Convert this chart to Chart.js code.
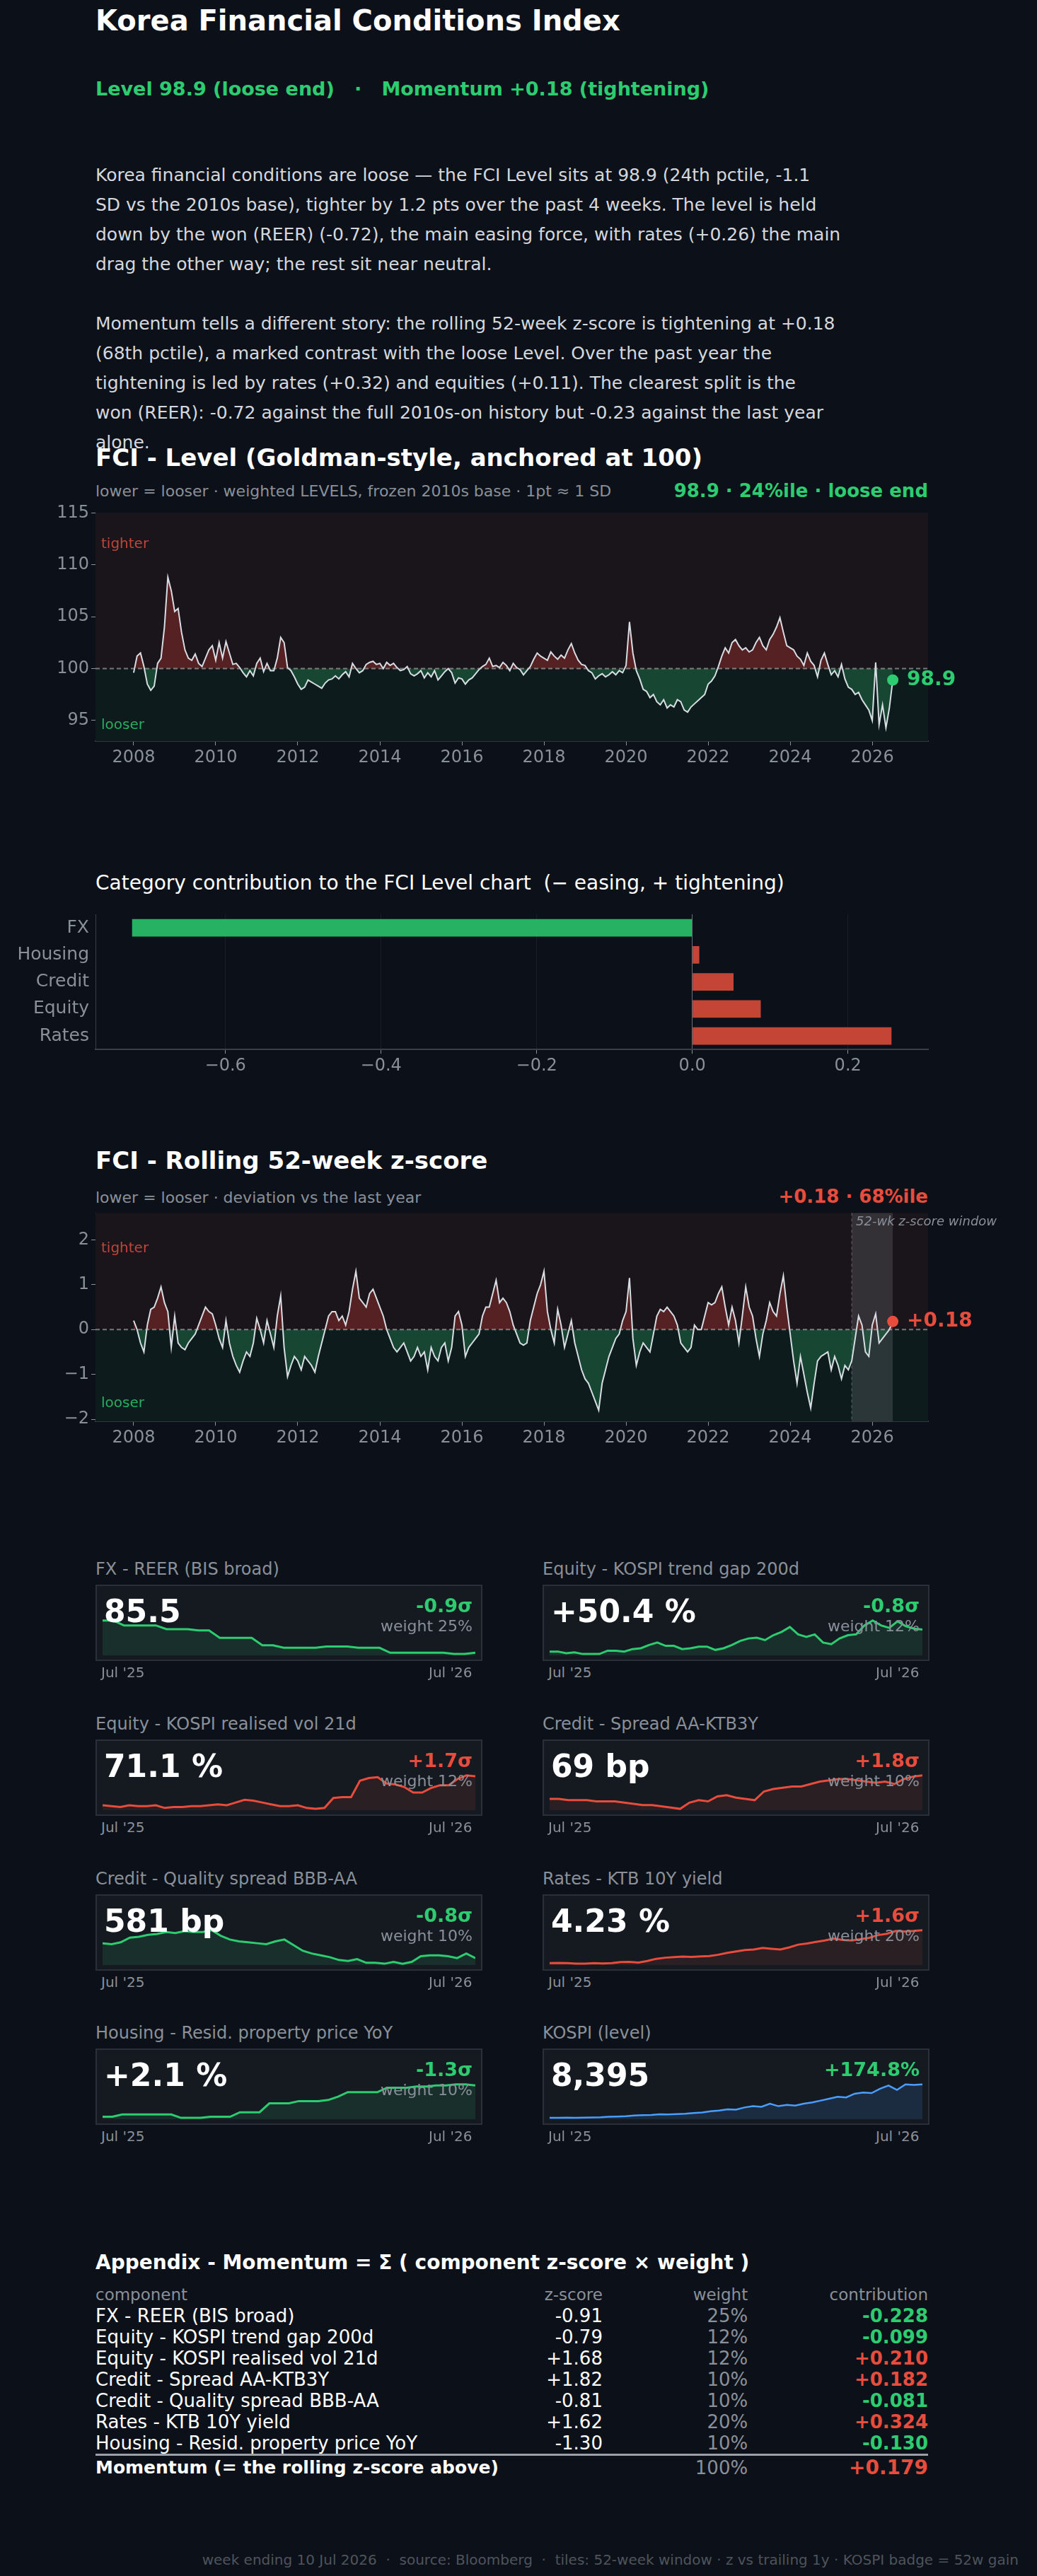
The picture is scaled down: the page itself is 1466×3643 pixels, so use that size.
<!DOCTYPE html>
<html>
<head>
<meta charset="utf-8">
<script src="https://cdn.jsdelivr.net/npm/chart.js@4.4.1/dist/chart.umd.min.js"></script>
<style>
  body { margin: 0; background: #0c1018; font-family: "DejaVu Sans", sans-serif; color: #d4d8de; }
  #page { position: relative; width: 1466px; height: 3643px; overflow: hidden; }
  .t { position: absolute; white-space: nowrap; }
  .box { position: absolute; background: #151a21; border: 2px solid #2a2f38; box-sizing: border-box; }
  .cv { position: absolute; }
  table { border-collapse: collapse; }
</style>
</head>
<body>
<div id="page">
  <div class="t" style="left:135px;top:6px;font-size:40px;font-weight:bold;color:#fff">Korea Financial Conditions Index</div>
  <div class="t" style="left:135px;top:110px;font-size:27px;font-weight:bold;color:#2ecc71">Level 98.9 (loose end) &nbsp; · &nbsp; Momentum +0.18 (tightening)</div>
  <div class="t" style="left:135px;top:227px;font-size:25px;line-height:42px;color:#d4d8de">
    Korea financial conditions are loose — the FCI Level sits at 98.9 (24th pctile, -1.1<br>
    SD vs the 2010s base), tighter by 1.2 pts over the past 4 weeks. The level is held<br>
    down by the won (REER) (-0.72), the main easing force, with rates (+0.26) the main<br>
    drag the other way; the rest sit near neutral.
  </div>
  <div class="t" style="left:135px;top:437px;font-size:25px;line-height:42px;color:#d4d8de">
    Momentum tells a different story: the rolling 52-week z-score is tightening at +0.18<br>
    (68th pctile), a marked contrast with the loose Level. Over the past year the<br>
    tightening is led by rates (+0.32) and equities (+0.11). The clearest split is the<br>
    won (REER): -0.72 against the full 2010s-on history but -0.23 against the last year<br>
    alone.
  </div>

  <div class="t" style="left:135px;top:627px;font-size:34px;font-weight:bold;color:#fff">FCI - Level (Goldman-style, anchored at 100)</div>
  <div class="t" style="left:135px;top:682px;font-size:22px;color:#8a9099">lower = looser · weighted LEVELS, frozen 2010s base · 1pt ≈ 1 SD</div>
  <div class="t" style="right:154px;top:679px;font-size:26px;font-weight:bold;color:#2ecc71">98.9 · 24%ile · loose end</div>
  <div class="cv" style="left:40px;top:708px;width:1420px;height:381px"><canvas id="levelChart"></canvas></div>

  <div class="t" style="left:135px;top:1232px;font-size:28px;color:#fff">Category contribution to the FCI Level chart &nbsp;(− easing, + tightening)</div>
  <div class="cv" style="left:0px;top:1275px;width:1330px;height:250px"><canvas id="catChart"></canvas></div>

  <div class="t" style="left:135px;top:1621px;font-size:34px;font-weight:bold;color:#fff">FCI - Rolling 52-week z-score</div>
  <div class="t" style="left:135px;top:1681px;font-size:22px;color:#8a9099">lower = looser · deviation vs the last year</div>
  <div class="t" style="right:154px;top:1677px;font-size:26px;font-weight:bold;color:#e74c3c">+0.18 · 68%ile</div>
  <div class="cv" style="left:40px;top:1698px;width:1420px;height:353px"><canvas id="zChart"></canvas></div>

  <div id="tiles"></div>

  <div class="t" style="left:135px;top:3183px;font-size:28px;font-weight:bold;color:#fff">Appendix - Momentum = Σ ( component z-score × weight )</div>
  <table id="tbl" class="t" style="left:135px;top:3230px;width:1177px;font-size:26px"></table>

  <div class="t" style="right:26px;top:3608px;font-size:20px;color:#4f545c">week ending 10 Jul 2026 &nbsp;·&nbsp; source: Bloomberg &nbsp;·&nbsp; tiles: 52-week window · z vs trailing 1y · KOSPI badge = 52w gain</div>
</div>

<script>
// === Data ===
const startYear = 2008;
// FCI level, monthly Jan 2008 .. Jul 2026
const levelValues = [
  99.6, 101.2, 101.5, 100.2, 98.5, 97.9, 98.3, 100.5, 101.0, 104.0, 108.8, 107.5,
  105.5, 105.8, 103.5, 101.8, 101.0, 100.8, 101.4, 100.5, 100.2, 101.0, 101.8, 102.2,
  100.8, 102.5, 101.0, 102.6, 101.5, 100.4, 100.5, 100.1, 99.6, 99.2, 99.8, 99.3,
  100.5, 101.0, 99.7, 100.5, 99.8, 99.8, 101.0, 103.0, 102.5, 100.1, 99.8, 99.2,
  98.5, 98.0, 98.2, 98.9, 98.7, 98.5, 98.3, 98.1, 98.6, 98.9, 99.0, 99.3,
  99.0, 99.4, 99.7, 99.2, 100.5, 100.0, 99.6, 99.8, 100.4, 100.6, 100.7, 100.4,
  100.5, 100.0, 100.6, 100.3, 100.5, 100.1, 99.8, 99.9, 100.2, 99.5, 99.3, 99.5,
  99.8, 99.1, 99.6, 99.2, 99.8, 98.9, 99.3, 99.7, 100.0, 99.6, 98.6, 99.1,
  99.0, 98.5, 98.9, 99.1, 99.5, 99.9, 100.2, 100.4, 101.0, 100.2, 100.3, 100.1,
  100.6, 100.3, 99.8, 100.5, 100.1, 99.9, 99.4, 99.8, 100.2, 100.9, 101.5, 101.2,
  101.0, 100.8, 101.6, 101.2, 100.9, 101.3, 101.0, 101.8, 102.4, 101.5, 100.8, 100.4,
  100.3, 99.8, 99.6, 99.0, 99.3, 99.5, 99.2, 99.4, 99.7, 99.4, 99.8, 99.6,
  100.3, 104.5, 101.5, 99.8, 99.0, 98.0, 97.8, 97.2, 97.5, 96.8, 96.5, 97.0,
  96.2, 96.5, 96.3, 97.0, 96.8, 96.0, 95.8, 96.3, 96.6, 96.9, 97.2, 97.5,
  98.5, 98.8, 99.3, 100.2, 101.2, 102.0, 101.5, 102.5, 102.8, 102.2, 101.8, 102.0,
  101.6, 101.8, 102.5, 103.0, 102.2, 101.8, 102.8, 103.3, 104.0, 104.9, 103.5, 102.2,
  102.0, 101.8, 101.2, 100.9, 100.3, 101.5, 100.7, 100.3, 99.2, 100.8, 101.5, 100.4,
  99.4, 99.8, 99.2, 100.4, 99.0, 98.2, 98.0, 97.5, 97.7, 97.0, 96.5, 96.0,
  95.0, 100.6, 94.6, 96.5, 94.3, 96.2, 98.9
];
// Rolling 52-week z-score, monthly Jan 2008 .. Jul 2026
const zValues = [
  0.2, 0.0, -0.3, -0.5, 0.1, 0.45, 0.5, 0.7, 0.95, 0.6, 0.4, -0.4,
  0.3, -0.3, -0.4, -0.45, -0.3, -0.2, -0.1, 0.1, 0.3, 0.5, 0.4, 0.35,
  0.1, -0.2, -0.4, 0.2, -0.3, -0.6, -0.8, -0.95, -0.7, -0.5, -0.6, -0.3,
  0.25, 0.0, -0.3, 0.2, -0.1, -0.4, 0.3, 0.75, -0.4, -1.05, -0.8, -0.6,
  -0.7, -0.9, -0.6, -0.7, -0.8, -0.95, -0.6, -0.3, 0.0, 0.3, 0.4, 0.4,
  0.2, 0.3, 0.1, 0.4, 0.9, 1.3, 0.7, 0.6, 0.5, 0.8, 0.9, 0.7,
  0.5, 0.3, 0.0, -0.2, -0.4, -0.5, -0.4, -0.3, -0.5, -0.7, -0.6, -0.4,
  -0.6, -0.5, -0.9, -0.4, -0.6, -0.7, -0.4, -0.3, -0.7, -0.4, 0.3, 0.4,
  0.1, -0.6, -0.4, -0.3, -0.2, -0.1, 0.3, 0.5, 0.5, 0.8, 1.1, 0.6,
  0.7, 0.6, 0.4, 0.1, -0.1, -0.3, -0.35, -0.3, 0.2, 0.5, 0.8, 1.0,
  1.3, 0.4, 0.0, -0.3, 0.45, 0.1, -0.4, -0.1, 0.2, -0.3, -0.6, -0.9,
  -1.1, -1.2, -1.4, -1.6, -1.8, -1.2, -0.9, -0.6, -0.4, -0.2, -0.1, 0.2,
  0.4, 1.15, -0.2, -0.8, -0.5, -0.3, -0.4, -0.5, -0.1, 0.3, 0.45, 0.4,
  0.5, 0.4, 0.3, 0.1, -0.3, -0.4, -0.5, -0.4, 0.1, 0.0, 0.0, 0.3,
  0.6, 0.55, 0.6, 0.8, 0.95, 0.5, 0.1, 0.5, 0.2, -0.3, 0.3, 0.95,
  0.5, 0.3, -0.2, -0.6, -0.1, 0.2, 0.6, 0.4, 0.3, 0.8, 1.2, 0.5,
  -0.1, -0.7, -1.2, -0.6, -1.0, -1.4, -1.75, -1.2, -0.7, -0.6, -0.55, -0.5,
  -0.9, -0.6, -0.8, -1.1, -0.8, -0.9, -0.7, -0.2, 0.3, 0.1, -0.5, -0.6,
  0.1, 0.35, -0.3, -0.2, -0.1, 0.0, 0.18
];
const yearTicks = [2008, 2010, 2012, 2014, 2016, 2018, 2020, 2022, 2024, 2026];
const levelTicks = [95, 100, 105, 110, 115];
const zTicks = [-2, -1, 0, 1, 2];

const categories = ['FX', 'Housing', 'Credit', 'Equity', 'Rates'];
const categoryContrib = [-0.72, 0.009, 0.053, 0.088, 0.256];
const contribTicks = [-0.6, -0.4, -0.2, 0, 0.2];

const tileTitles = ['FX - REER (BIS broad)', 'Equity - KOSPI trend gap 200d', 'Equity - KOSPI realised vol 21d',
  'Credit - Spread AA-KTB3Y', 'Credit - Quality spread BBB-AA', 'Rates - KTB 10Y yield',
  'Housing - Resid. property price YoY', 'KOSPI (level)'];
const tileValues = ['85.5', '+50.4 %', '71.1 %', '69 bp', '581 bp', '4.23 %', '+2.1 %', '8,395'];
const tileBadges = ['-0.9σ', '-0.8σ', '+1.7σ', '+1.8σ', '-0.8σ', '+1.6σ', '-1.3σ', '+174.8%'];
const tileWeights = ['weight 25%', 'weight 12%', 'weight 12%', 'weight 10%', 'weight 10%', 'weight 20%', 'weight 10%', ''];
const tileTone = ['green', 'green', 'red', 'red', 'green', 'red', 'green', 'blue'];
const sparkFx = [88.2, 88.2, 87.8, 87.8, 87.8, 87.8, 87.5, 87.5, 87.5, 87.4, 87.4, 86.8, 86.8, 86.8, 86.8, 86.2, 86.2, 86.0, 86.0, 86.0, 86.0, 86.1, 86.1, 86.1, 86.0, 86.0, 86.0, 85.6, 85.6, 85.6, 85.6, 85.6, 85.6, 85.5, 85.5, 85.6];
const sparkTrend = [5, 5, 3, 4, 2, 2, 2, 6, 6, 5, 8, 9, 13, 16, 12, 12, 8, 9, 11, 11, 7, 9, 13, 18, 21, 22, 19, 25, 29, 35, 26, 23, 26, 16, 14, 21, 25, 26, 37, 43, 37, 34, 42, 36, 33, 32];
const sparkVol = [38, 37, 36, 38, 37, 37, 38, 35, 36, 36, 37, 37, 38, 39, 38, 41, 44, 43, 41, 39, 37, 37, 38, 35, 34, 35, 46, 47, 47, 65, 68, 69, 62, 61, 58, 52, 52, 57, 60, 60, 67, 71, 70];
const sparkSpread = [50, 50, 49, 49, 49, 48, 48, 48, 47, 46, 45, 45, 44, 43, 42, 47, 49, 48, 52, 53, 51, 50, 49, 56, 58, 59, 60, 60, 62, 64, 65, 66, 66, 65, 64, 63, 64, 62, 66, 68, 69];
const sparkQuality = [602, 601, 603, 608, 609, 611, 612, 614, 613, 615, 614, 614, 616, 610, 606, 604, 603, 602, 601, 604, 606, 600, 594, 591, 589, 587, 584, 583, 585, 581, 581, 580, 582, 580, 582, 588, 589, 589, 588, 586, 591, 586];
const sparkKtb = [3.02, 3.03, 3.02, 3.0, 3.0, 3.02, 3.01, 3.02, 3.06, 3.07, 3.04, 3.1, 3.18, 3.22, 3.24, 3.26, 3.25, 3.27, 3.28, 3.33, 3.4, 3.45, 3.5, 3.52, 3.58, 3.55, 3.52, 3.6, 3.7, 3.74, 3.8, 3.85, 3.92, 3.87, 3.85, 3.9, 3.95, 4.05, 4.1, 4.2, 4.18, 4.2, 4.23];
const sparkHousing = [-2.0, -2.0, -1.8, -1.8, -1.8, -1.8, -1.8, -1.8, -2.1, -2.1, -2.1, -2.0, -2.0, -2.0, -1.6, -1.6, -1.6, -0.8, -0.8, -0.8, -0.6, -0.6, -0.6, -0.5, -0.2, 0.2, 0.2, 0.2, 0.2, 0.6, 0.6, 0.6, 0.7, 0.7, 0.8, 0.8, 0.9, 0.9, 0.8];
const sparkKospi = [3050, 3040, 3060, 3030, 3080, 3090, 3120, 3200, 3250, 3300, 3420, 3460, 3500, 3600, 3580, 3650, 3700, 3800, 3900, 4100, 4200, 4400, 4350, 4700, 4900, 4800, 5300, 4900, 5100, 5000, 5300, 5500, 5800, 6100, 6400, 6300, 6900, 7100, 7000, 7700, 8200, 7500, 8400, 8300, 8395];
const sparkSeries = [sparkFx, sparkTrend, sparkVol, sparkSpread, sparkQuality, sparkKtb, sparkHousing, sparkKospi];

const tableRows = [
  ['FX - REER (BIS broad)', '-0.91', '25%', '-0.228'],
  ['Equity - KOSPI trend gap 200d', '-0.79', '12%', '-0.099'],
  ['Equity - KOSPI realised vol 21d', '+1.68', '12%', '+0.210'],
  ['Credit - Spread AA-KTB3Y', '+1.82', '10%', '+0.182'],
  ['Credit - Quality spread BBB-AA', '-0.81', '10%', '-0.081'],
  ['Rates - KTB 10Y yield', '+1.62', '20%', '+0.324'],
  ['Housing - Resid. property price YoY', '-1.30', '10%', '-0.130']
];
const totalRow = ['Momentum  (= the rolling z-score above)', '', '100%', '+0.179'];

// === Colours ===
const green = '#2ecc71';
const red = '#e74c3c';
const muted = '#8a9099';
const gridCol = 'rgba(255,255,255,0.06)';

Chart.defaults.font.family = '"DejaVu Sans", sans-serif';
Chart.defaults.color = muted;
Chart.defaults.animation = false;

function toPoints(values) {
  return values.map((v, i) => ({ x: startYear + i / 12, y: v }));
}

// bands, zero line, labels and end marker drawn through the chart scales
const regimePlugin = {
  id: 'regime',
  beforeDatasetsDraw(chart, args, o) {
    const { ctx, chartArea: a, scales: { x, y } } = chart;
    const mid = y.getPixelForValue(o.base);
    ctx.save();
    ctx.fillStyle = '#19151b';
    ctx.fillRect(a.left, a.top, a.right - a.left, mid - a.top);
    ctx.fillStyle = '#0e1b1d';
    ctx.fillRect(a.left, mid, a.right - a.left, a.bottom - mid);
    if (o.window) {
      const x0 = x.getPixelForValue(o.window[0]), x1 = x.getPixelForValue(o.window[1]);
      ctx.fillStyle = 'rgba(255,255,255,0.12)';
      ctx.fillRect(x0, a.top, x1 - x0, a.bottom - a.top);
      ctx.strokeStyle = 'rgba(255,255,255,0.3)';
      ctx.setLineDash([4, 4]);
      ctx.beginPath(); ctx.moveTo(x0, a.top); ctx.lineTo(x0, a.bottom); ctx.stroke();
      ctx.setLineDash([]);
      ctx.font = 'italic 18px "DejaVu Sans"';
      ctx.fillStyle = '#8a9099';
      ctx.textBaseline = 'top';
      ctx.fillText('52-wk z-score window', x0 + 6, a.top + 4);
    }
    ctx.restore();
  },
  afterDatasetsDraw(chart, args, o) {
    const { ctx, chartArea: a, scales: { x, y } } = chart;
    const mid = y.getPixelForValue(o.base);
    ctx.save();
    ctx.strokeStyle = 'rgba(200,200,200,0.55)';
    ctx.lineWidth = 2;
    ctx.setLineDash([6, 4]);
    ctx.beginPath(); ctx.moveTo(a.left, mid); ctx.lineTo(a.right, mid); ctx.stroke();
    ctx.setLineDash([]);
    ctx.font = '20px "DejaVu Sans"';
    ctx.textBaseline = 'middle';
    ctx.fillStyle = '#c0453a';
    ctx.fillText('tighter', a.left + 8, y.getPixelForValue(o.tighterAt));
    ctx.fillStyle = '#27ae60';
    ctx.fillText('looser', a.left + 8, y.getPixelForValue(o.looserAt));
    const data = chart.data.datasets[0].data;
    const last = data[data.length - 1];
    const px = x.getPixelForValue(last.x), py = y.getPixelForValue(last.y);
    ctx.fillStyle = o.endColor;
    ctx.beginPath(); ctx.arc(px, py, 8, 0, Math.PI * 2); ctx.fill();
    ctx.font = 'bold 28px "DejaVu Sans"';
    ctx.fillText(o.endLabel, px + 20, py);
    ctx.restore();
  }
};

function timeChart(id, values, yOpts, plugOpts) {
  return new Chart(document.getElementById(id), {
    type: 'line',
    data: {
      datasets: [{
        data: toPoints(values),
        borderColor: '#d8dde3',
        borderWidth: 2,
        pointRadius: 0,
        tension: 0,
        fill: { target: { value: plugOpts.base }, above: 'rgba(120,40,40,0.65)', below: 'rgba(30,100,65,0.6)' }
      }]
    },
    options: {
      responsive: true,
      maintainAspectRatio: false,
      layout: { padding: { top: 5, right: 148 } },
      plugins: { legend: { display: false }, tooltip: { enabled: false }, regime: plugOpts },
      scales: {
        x: {
          type: 'linear', min: 2007.07, max: 2027.36,
          afterBuildTicks: s => { s.ticks = yearTicks.map(v => ({ value: v })); },
          ticks: { font: { size: 24 }, color: muted, callback: v => String(v) },
          grid: { color: gridCol, tickColor: muted, tickLength: 6 },
          border: { color: '#3a3f48', width: 2 }
        },
        y: Object.assign({
          afterFit: s => { s.width = 95; },
          grid: { color: gridCol, tickColor: muted, tickLength: 6 },
          border: { color: '#3a3f48' }
        }, yOpts)
      }
    },
    plugins: [regimePlugin]
  });
}

timeChart('levelChart', levelValues, {
  min: 93, max: 115,
  afterBuildTicks: s => { s.ticks = levelTicks.map(v => ({ value: v })); },
  ticks: { font: { size: 24 }, color: muted }
}, { base: 100, tighterAt: 112, looserAt: 94.5, endColor: green, endLabel: '98.9' });

timeChart('zChart', zValues, {
  min: -2.05, max: 2.6,
  afterBuildTicks: s => { s.ticks = zTicks.map(v => ({ value: v })); },
  ticks: { font: { size: 24 }, color: muted, callback: v => String(v).replace('-', '−') }
}, { base: 0, tighterAt: 1.8, looserAt: -1.65, endColor: red, endLabel: '+0.18', window: [2025.5, 2026.5] });

// Category contribution bars
new Chart(document.getElementById('catChart'), {
  type: 'bar',
  data: {
    labels: categories,
    datasets: [{
      data: categoryContrib,
      backgroundColor: categoryContrib.map(v => v < 0 ? '#27b163' : '#c44536'),
      barPercentage: 0.65,
      categoryPercentage: 1
    }]
  },
  options: {
    indexAxis: 'y',
    responsive: true,
    maintainAspectRatio: false,
    layout: { padding: { top: 5, right: 18 } },
    plugins: { legend: { display: false }, tooltip: { enabled: false } },
    scales: {
      x: {
        min: -0.767, max: 0.303,
        afterBuildTicks: s => { s.ticks = contribTicks.map(v => ({ value: v })); },
        ticks: { font: { size: 24 }, color: muted, callback: v => v === 0 ? '0.0' : v.toFixed(1).replace('-', '−') },
        grid: { color: c => c.tick && c.tick.value === 0 ? '#6a7079' : gridCol, tickColor: muted, tickLength: 6 },
        border: { color: '#3a3f48', width: 2 }
      },
      y: {
        afterFit: s => { s.width = 135; },
        ticks: { font: { size: 25 }, color: muted },
        grid: { display: false, tickColor: muted, tickLength: 6 },
        border: { color: '#3a3f48' }
      }
    }
  }
});

// === Tiles ===
const tileCols = [135, 767];
const tileTops = [2241, 2460, 2679, 2897];
const toneLine = { green: '#2ecc71', red: '#e74c3c', blue: '#4a9eff' };
const toneFill = { green: 'rgba(46,204,113,0.12)', red: 'rgba(231,76,60,0.10)', blue: 'rgba(74,158,255,0.14)' };
const tilesEl = document.getElementById('tiles');

tileTitles.forEach((title, i) => {
  const left = tileCols[i % 2], top = tileTops[Math.floor(i / 2)];
  const w = 547, h = 108;
  const tone = tileTone[i];
  const badgeCol = tone === 'red' ? red : green;
  tilesEl.insertAdjacentHTML('beforeend',
    `<div class="t" style="left:${left}px;top:${top - 36}px;font-size:24px;color:${muted}">${title}</div>
     <div class="box" style="left:${left}px;top:${top}px;width:${w}px;height:${h}px">
       <div class="cv" style="left:8px;top:6px;width:${w - 20}px;height:${h - 16}px"><canvas id="spark${i}"></canvas></div>
       <div class="t" style="left:10px;top:10px;font-size:44px;font-weight:bold;color:#fff">${tileValues[i]}</div>
       <div class="t" style="right:12px;top:12px;font-size:27px;font-weight:bold;color:${badgeCol}">${tileBadges[i]}</div>
       <div class="t" style="right:12px;top:44px;font-size:22px;color:${muted}">${tileWeights[i]}</div>
     </div>
     <div class="t" style="left:${left + 8}px;top:${top + h + 4}px;font-size:20px;color:${muted}">Jul '25</div>
     <div class="t" style="left:${left + w - 76}px;top:${top + h + 4}px;font-size:20px;color:${muted}">Jul '26</div>`);
  const vals = sparkSeries[i];
  const lo = Math.min(...vals), hi = Math.max(...vals), r = (hi - lo) || 1;
  new Chart(document.getElementById('spark' + i), {
    type: 'line',
    data: {
      labels: vals.map((_, k) => k),
      datasets: [{
        data: vals, borderColor: toneLine[tone], borderWidth: tone === 'blue' ? 2.5 : 3,
        pointRadius: 0, tension: 0, fill: 'start', backgroundColor: toneFill[tone]
      }]
    },
    options: {
      responsive: true, maintainAspectRatio: false,
      plugins: { legend: { display: false }, tooltip: { enabled: false } },
      scales: {
        x: { display: false },
        y: { display: false, min: lo - 0.04 * r, max: hi + 0.9 * r }
      }
    }
  });
});

// === Appendix table ===
const tbl = document.getElementById('tbl');
const cell = (txt, align, style) => `<td style="text-align:${align};padding:0;height:30px;line-height:30px;${style}">${txt}</td>`;
const contribCol = v => v.startsWith('-') ? green : red;
let html = '<tr>' + cell('component', 'left', `color:${muted};font-size:23px`) + cell('z-score', 'right', `color:${muted};font-size:23px;width:150px`) +
  cell('weight', 'right', `color:${muted};font-size:23px;width:211px`) + cell('contribution', 'right', `color:${muted};font-size:23px;width:260px`) + '</tr>';
tableRows.forEach(r => {
  html += '<tr>' + cell(r[0], 'left', 'color:#fff') + cell(r[1], 'right', 'color:#fff') +
    cell(r[2], 'right', `color:${muted}`) + cell(r[3], 'right', `color:${contribCol(r[3])};font-weight:bold`) + '</tr>';
});
html += '<tr style="border-top:3px solid #9aa0a8">' + cell(totalRow[0], 'left', 'color:#fff;font-weight:bold;font-size:25px;height:34px') +
  cell(totalRow[1], 'right', '') + cell(totalRow[2], 'right', `color:${muted}`) +
  cell(totalRow[3], 'right', `color:${red};font-weight:bold;font-size:28px`) + '</tr>';
tbl.innerHTML = html;
</script>
</body>
</html>
